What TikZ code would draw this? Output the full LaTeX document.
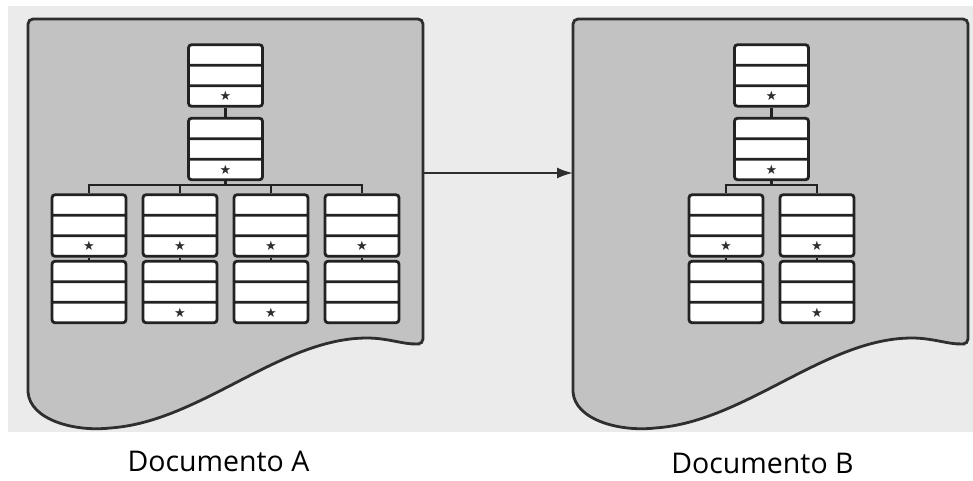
\documentclass[tikz,border=0pt]{standalone}
\usepackage{fontspec}
\setmainfont{Open Sans}
\newfontfamily\symfont{DejaVu Sans}
\usetikzlibrary{arrows.meta,shapes.multipart}

\definecolor{pagebg}{HTML}{EBEBEB}
\definecolor{docfill}{HTML}{C2C2C2}
\definecolor{docline}{HTML}{2E2E2E}
\definecolor{boxline}{HTML}{222222}

\newcommand{\recrow}[1]{\parbox[c][17.7pt][c]{30pt}{\centering #1}}
\newcommand{\plainrec}{\recrow{}\nodepart{two}\recrow{}\nodepart{three}\recrow{}}
\newcommand{\starrec}{\recrow{}\nodepart{two}\recrow{}\nodepart{three}\recrow{\color{docline}\symfont\fontsize{13}{13}\selectfont ★}}
\newcommand{\docpage}{%
  \draw[docpage] (28,392) [rounded corners=5pt] -- (28,19) -- (423,19) -- (423,344) -- (415,344)
    [sharp corners] .. controls (400,343) and (385,338) .. (367,338)
    .. controls (280,338) and (200,422) .. (110,428)
    .. controls (75,432) and (30,420) .. (28,392) -- cycle;}

\begin{document}
\begin{tikzpicture}[x=1pt, y=-1pt,
    docpage/.style={draw=docline, fill=docfill, line width=2.8pt},
    record/.style={rectangle split, rectangle split parts=3, draw=boxline, fill=white,
      rounded corners=3pt, line width=2.8pt, inner sep=0pt, minimum width=74pt},
    link/.style={draw=boxline, line width=2.8pt},
    flow/.style={-{Latex[length=16pt,width=11pt]}, draw=docline, line width=2.2pt},
    caption/.style={font=\fontsize{28.5}{34}\selectfont}]

  \useasboundingbox (0,0) rectangle (973,480);
  \fill[pagebg] (8,6) rectangle (973,432);

  % Pages
  \docpage
  \begin{scope}[xshift=545pt]
    \docpage
  \end{scope}

  % Documento A
  \node[record] (a1) at (225.5,75.5) {\starrec};
  \node[record] (a2) at (225.5,149) {\starrec};
  \node[record] (a31) at (89,225.5) {\starrec};
  \node[record] (a32) at (180,225.5) {\starrec};
  \node[record] (a33) at (271,225.5) {\starrec};
  \node[record] (a34) at (362,225.5) {\starrec};
  \node[record] (a41) at (89,292) {\plainrec};
  \node[record] (a42) at (180,292) {\starrec};
  \node[record] (a43) at (271,292) {\starrec};
  \node[record] (a44) at (362,292) {\plainrec};
  \coordinate (busA) at (225.5,185);

  \path[link] (a1) -- (a2)
    (a2.south) -- (busA)
    (a31.north) |- (a34.north |- busA) -- (a34.north)
    (a32.north) -- (a32.north |- busA)
    (a33.north) -- (a33.north |- busA);
  \foreach \c in {1,2,3,4}
    \path[link] (a3\c) -- (a4\c);

  % Documento B
  \node[record] (b1) at (771.5,75.5) {\starrec};
  \node[record] (b2) at (771.5,149) {\starrec};
  \node[record] (b31) at (726,225.5) {\starrec};
  \node[record] (b32) at (817,225.5) {\starrec};
  \node[record] (b41) at (726,292) {\plainrec};
  \node[record] (b42) at (817,292) {\starrec};
  \coordinate (busB) at (771.5,185);

  \path[link] (b1) -- (b2)
    (b2.south) -- (busB)
    (b31.north) |- (b32.north |- busB) -- (b32.north);
  \foreach \c in {1,2}
    \path[link] (b3\c) -- (b4\c);

  % Transformation
  \coordinate (outA) at (423,173);
  \coordinate (inB) at (573,173);
  \draw[flow] (outA) -- (inB);

  \node[caption] (labA) at (218.5,461) {Documento A};
  \node[caption] (labB) at (762.5,463) {Documento B};
\end{tikzpicture}
\end{document}
